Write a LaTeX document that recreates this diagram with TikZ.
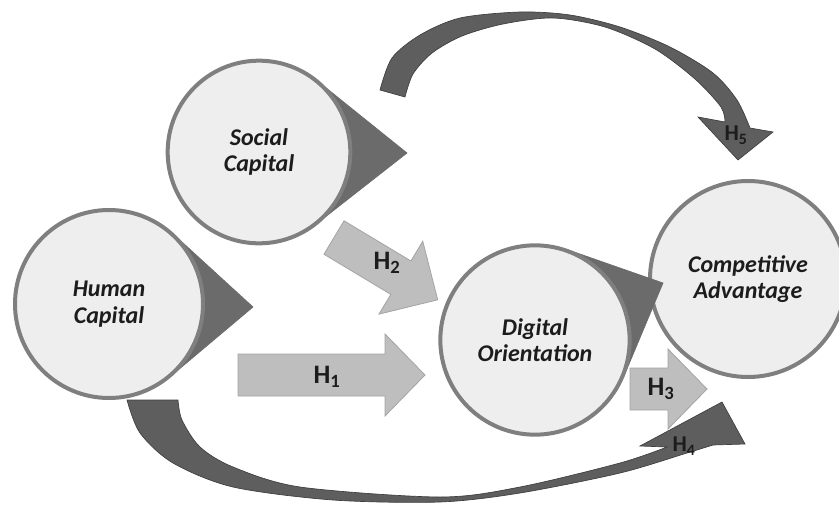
\documentclass[tikz,border=0pt]{standalone}
\usepackage{fontspec}
\setmainfont{Carlito}
\usetikzlibrary{calc}

\definecolor{discfill}{HTML}{EEEEEE}
\definecolor{discline}{HTML}{7F7F7F}
\definecolor{wedgegray}{HTML}{6B6B6B}
\definecolor{blockfill}{HTML}{BEBEBE}
\definecolor{blockline}{HTML}{A4A4A4}
\definecolor{curvefill}{HTML}{5E5E5E}
\definecolor{curveline}{HTML}{3E3E3E}
\definecolor{ink}{HTML}{1C1C1C}

\tikzset{
  disc/.style={circle, draw=discline, line width=3pt, fill=discfill, text=ink, align=center,
    inner sep=0pt, font=\fontsize{18}{20}\selectfont\bfseries\itshape},
  pointer/.style={fill=wedgegray, draw=wedgegray, line width=0.5pt},
  hyp/.style={fill=blockfill, draw=blockline, line width=0.6pt},
  curved/.style={fill=curvefill, draw=curveline, line width=0.5pt},
  hbig/.style={text=ink, inner sep=0pt, font=\fontsize{20}{20}\selectfont\bfseries},
  hsmall/.style={text=ink, inner sep=0pt, font=\fontsize{17}{17}\selectfont\bfseries}
}

\begin{document}
\begin{tikzpicture}[x=0.75pt, y=-0.75pt]
\useasboundingbox (0,0) rectangle (839,504);

% straight hypothesis arrows
\begin{scope}[shift={(238,375)}]
  \draw[hyp] (0,-21) -- (147,-21) -- (147,-41) -- (187,0) -- (147,41) -- (147,21) -- (0,21) -- cycle;
\end{scope}
\begin{scope}[shift={(334,237.5)}, rotate=-31]
  \draw[hyp] (0,-19.5) -- (78,-19.5) -- (78,-42.5) -- (121,0) -- (78,42.5) -- (78,19.5) -- (0,19.5) -- cycle;
\end{scope}
\begin{scope}[shift={(630,389)}]
  \draw[hyp] (0,-21) -- (38,-21) -- (38,-40) -- (77,0) -- (38,40) -- (38,21) -- (0,21) -- cycle;
\end{scope}
\node[hbig] (h1) at (327,377) {H\textsubscript{1}};
\node[hbig] (h2) at (387,263) {H\textsubscript{2}};
\node[hbig] (h3) at (661,389) {H\textsubscript{3}};

% curved arrows: bottom (H4) and top (H5)
\draw[curved] plot[smooth] coordinates {(127,400) (140,433) (173,463) (233,487) (333,500) (440,502)
    (520,493) (620,473) (687,453) (713,445)}
  -- (745,444) -- (722,402) -- (640,446)
  -- plot[smooth] coordinates {(667,447) (620,463) (520,487) (440,497) (300,487) (233,467)
    (200,447) (182,420) (178,400)} -- cycle;
\draw[curved] plot[smooth] coordinates {(380,90) (392,58) (420,35) (460,18) (520,12) (570,15)
    (620,27) (670,47) (713,73) (737,100) (750,128)}
  -- (773,132) -- (738,160) -- (698,117)
  -- plot[smooth] coordinates {(725,122) (721,107) (695,79) (655,49) (605,27) (553,18) (503,24)
    (462,36) (432,53) (413,74) (405,97)} -- cycle;
\node[hsmall] (h4) at (684,446) {H\textsubscript{4}};
\node[hsmall] (h5) at (736,135) {H\textsubscript{5}};

% outcome
\node[disc, minimum size=147pt] (ca) at (748,279) {Competitive\\Advantage};

% discs with their pointers
\coordinate (scc) at (259,152);
\coordinate (sctip) at (407,153);
\fill[pointer] let \p1=($(sctip)-(scc)$), \n1={acos(69/veclen(\x1,\y1))} in
  (sctip) -- ($(scc)!69pt!\n1:(sctip)$) -- ($(scc)!69pt!-\n1:(sctip)$) -- cycle;
\node[disc, minimum size=137pt] (sc) at (scc) {Social\\Capital};

\coordinate (hcc) at (109,304);
\coordinate (hctip) at (253,307);
\fill[pointer] let \p1=($(hctip)-(hcc)$), \n1={acos(71.25/veclen(\x1,\y1))} in
  (hctip) -- ($(hcc)!71.25pt!\n1:(hctip)$) -- ($(hcc)!71.25pt!-\n1:(hctip)$) -- cycle;
\node[disc, minimum size=141pt] (hc) at (hcc) {Human\\Capital};

\coordinate (doc) at (535,340);
\coordinate (dotip) at (663,283);
\fill[pointer] let \p1=($(dotip)-(doc)$), \n1={acos(72/veclen(\x1,\y1))} in
  (dotip) -- ($(doc)!72pt!\n1:(dotip)$) -- ($(doc)!72pt!-\n1:(dotip)$) -- cycle;
\node[disc, minimum size=142pt] (do) at (doc) {Digital\\Orientation};
\end{tikzpicture}
\end{document}
